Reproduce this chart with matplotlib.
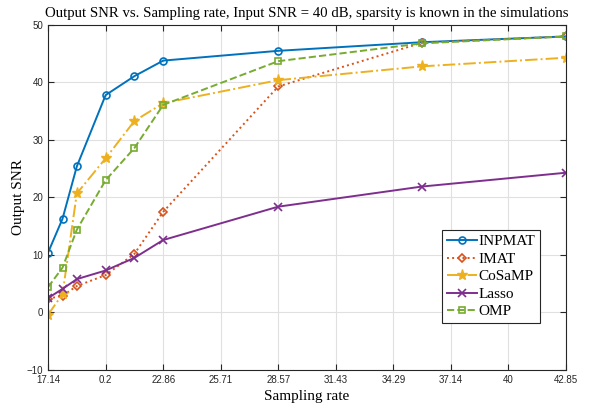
import numpy as np
import matplotlib.pyplot as plt

# sampling rates and output SNR
rate = [17.14, 17.86, 18.57, 20.0, 21.43, 22.86, 28.57, 35.71, 42.85]
inpmat = [10.4, 16.3, 25.4, 37.8, 41.1, 43.8, 45.5, 47.0, 48.0]
imat = [2.4, 2.9, 4.6, 6.5, 10.2, 17.5, 39.3, 46.9, 48.0]
cosamp = [-0.4, 3.2, 20.7, 26.8, 33.3, 36.4, 40.4, 42.8, 44.3]
lasso = [2.5, 4.1, 5.8, 7.3, 9.5, 12.6, 18.4, 21.9, 24.3]
omp = [4.4, 7.8, 14.4, 23.0, 28.6, 36.1, 43.7, 46.8, 48.0]

xticks = [17.14, 20.0, 22.86, 25.71, 28.57, 31.43, 34.29, 37.14, 40.0, 42.85]
xticklabels = ['17.14', '0.2', '22.86', '25.71', '28.57', '31.43', '34.29', '37.14', '40', '42.85']

serif = 'Liberation Serif'
sans = 'Liberation Sans'

fig = plt.figure(figsize=(5.9, 4.09), dpi=100)
ax = fig.add_axes([0.0814, 0.0954, 0.8776, 0.8436])

ax.plot(rate, inpmat, '-o', color='#0072BD', lw=1.4, ms=5, mfc='none', mew=1.2, label='INPMAT')
ax.plot(rate, imat, ':D', color='#D95319', lw=1.4, ms=4.5, mfc='none', mew=1.2, label='IMAT')
ax.plot(rate, cosamp, '-.*', color='#EDB120', lw=1.4, ms=8, label='CoSaMP')
ax.plot(rate, lasso, '-x', color='#7E2F8E', lw=1.4, ms=5.5, mew=1.2, label='Lasso')
ax.plot(rate, omp, '--s', color='#77AC30', lw=1.4, ms=4.5, mfc='none', mew=1.2, label='OMP')

ax.set_xlim(17.14, 42.85)
ax.set_ylim(-10, 50)
ax.set_xticks(xticks)
ax.set_xticklabels(xticklabels)
ax.set_yticks(np.arange(-10, 51, 10))
ax.tick_params(direction='in', top=True, right=True, labelsize=7, colors='#262626', length=4)
for lab in ax.get_xticklabels() + ax.get_yticklabels():
    lab.set_family(sans)
for sp in ax.spines.values():
    sp.set_color('#262626')
    sp.set_linewidth(0.8)
ax.grid(True, color='#e0e0e0', lw=0.8)
ax.set_axisbelow(True)

ax.set_title('Output SNR vs. Sampling rate, Input SNR = 40 dB, sparsity is known in the simulations',
             family=serif, fontsize=10.6)
ax.set_xlabel('Sampling rate', family=serif, fontsize=11, labelpad=4)
ax.set_ylabel('Output SNR', family=serif, fontsize=11, labelpad=1)

leg = ax.legend(loc='lower right', bbox_to_anchor=(0.95, 0.136), prop={'family': serif, 'size': 11},
                fancybox=False, edgecolor='#262626', framealpha=1, borderpad=0.3,
                labelspacing=0.25, handlelength=2.0, handletextpad=0.1, borderaxespad=0)
leg.get_frame().set_linewidth(0.8)

fig.savefig('out.png', dpi=100)
